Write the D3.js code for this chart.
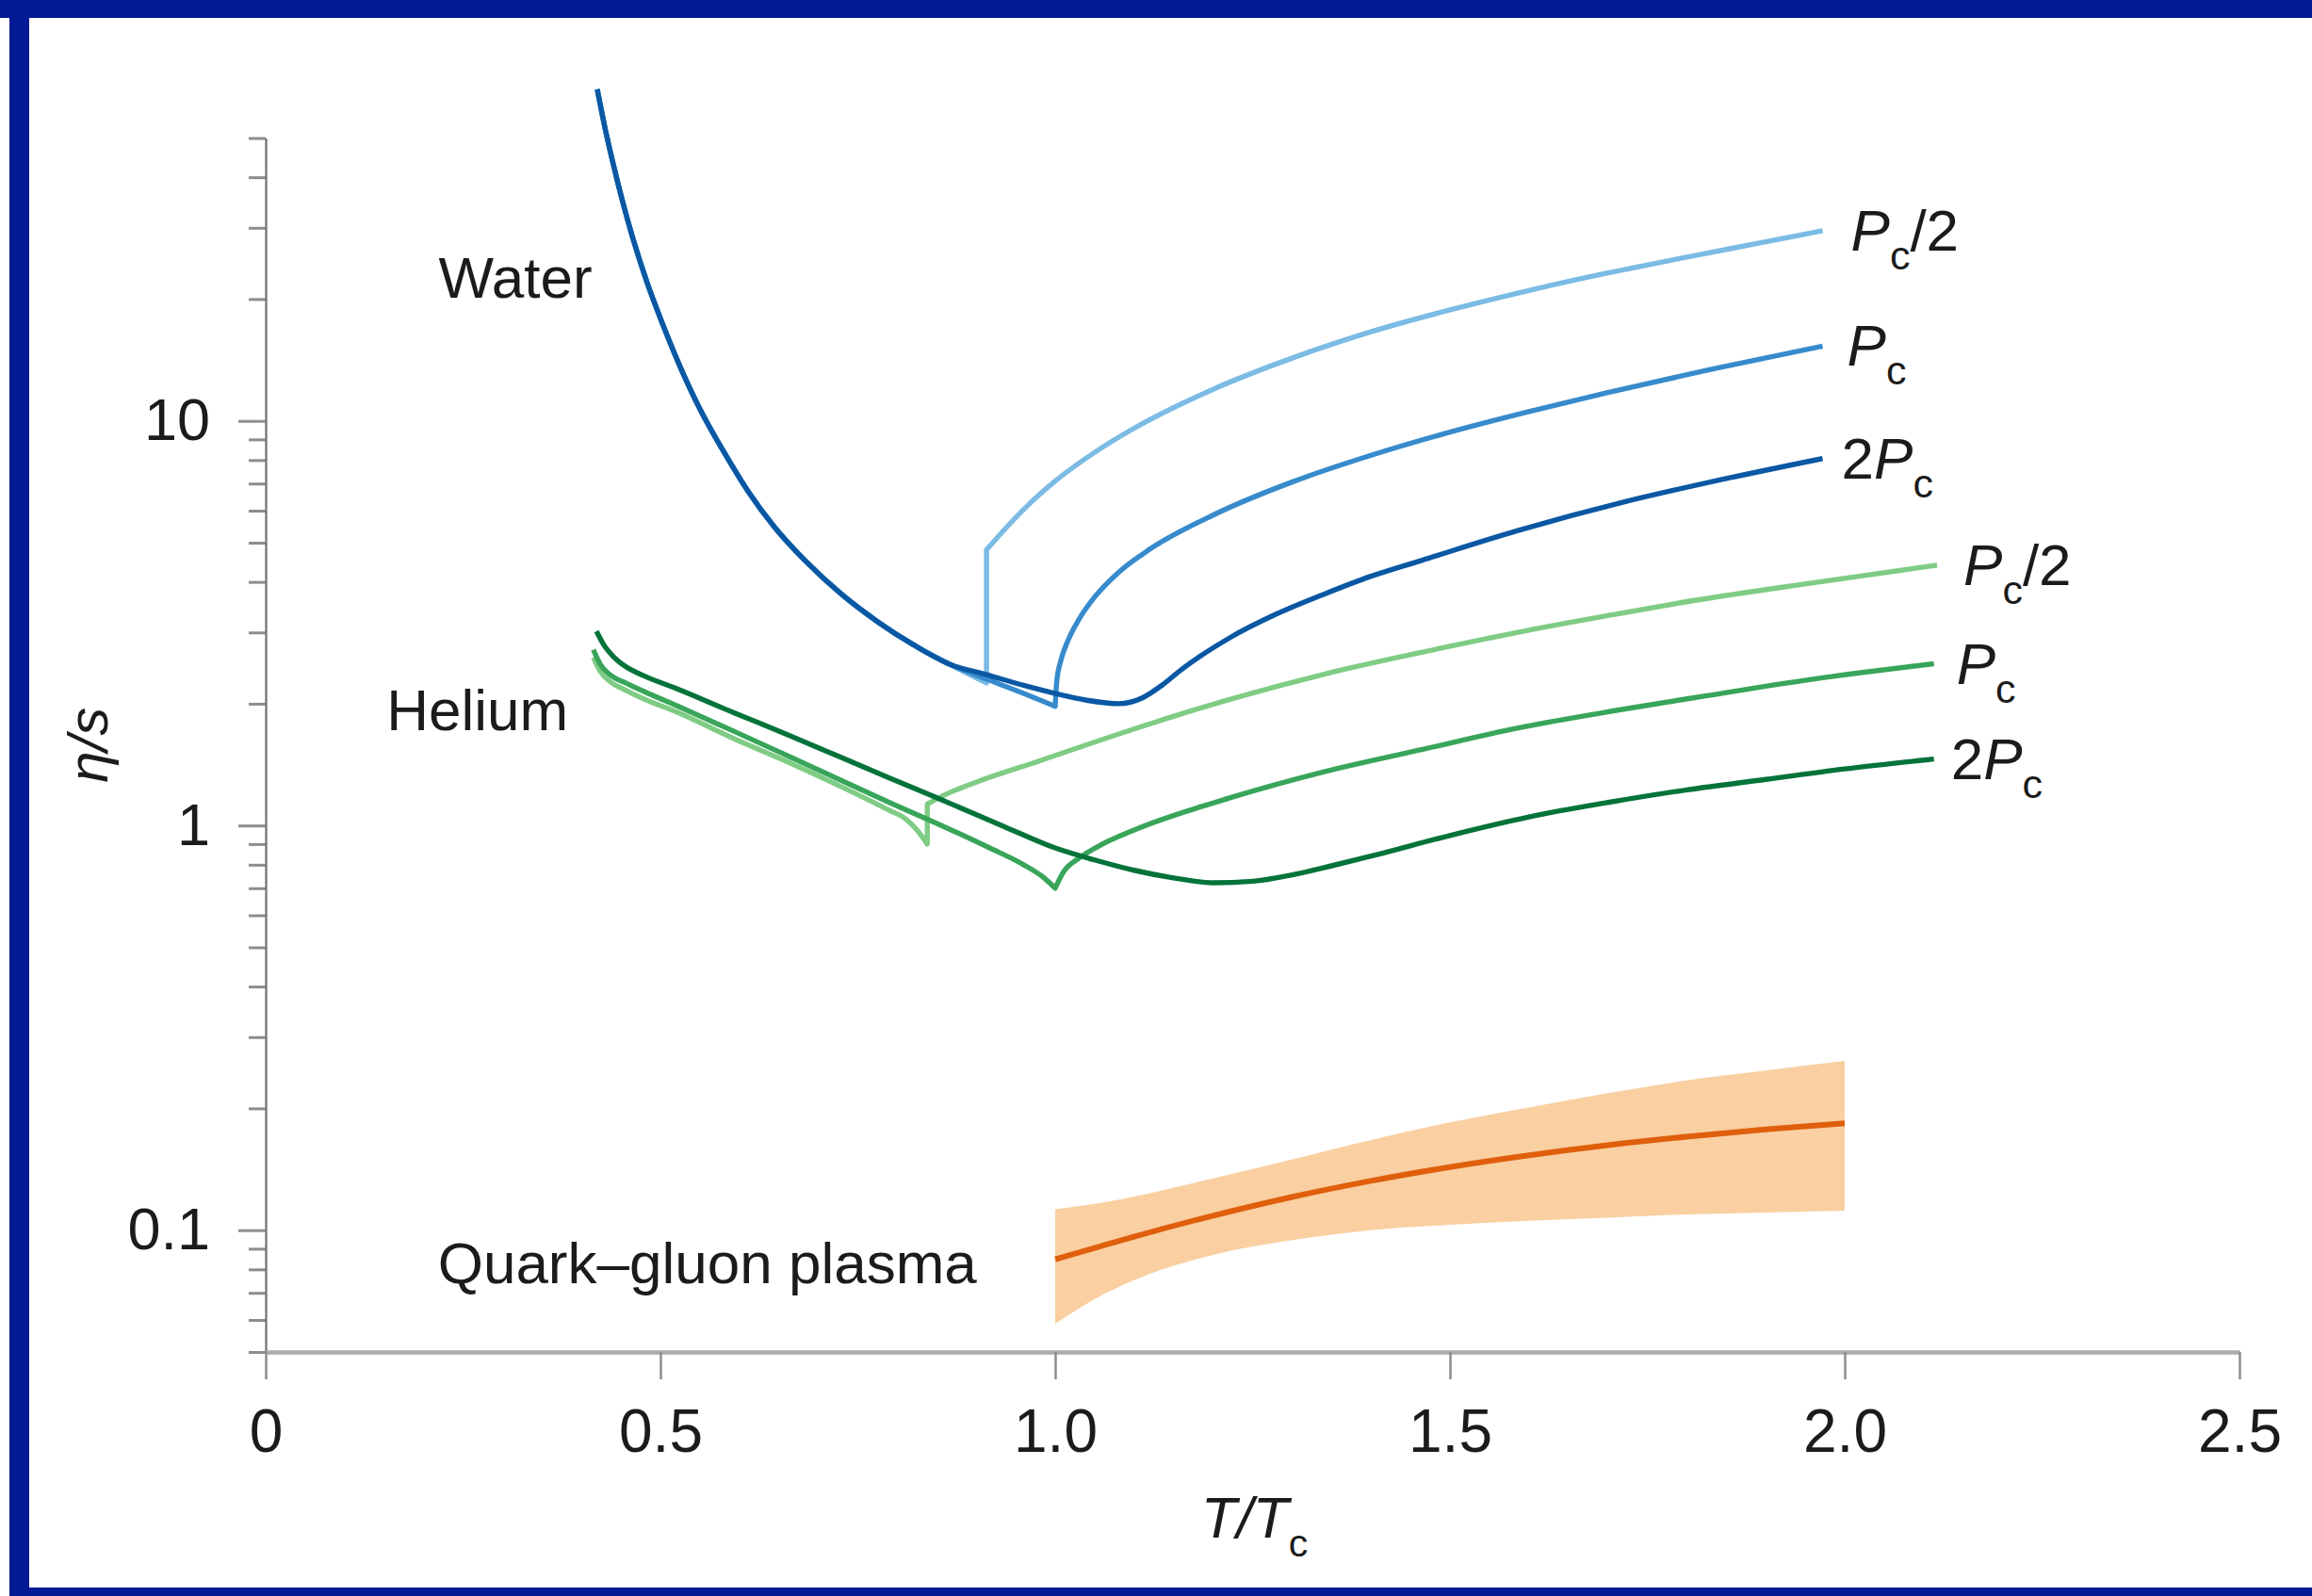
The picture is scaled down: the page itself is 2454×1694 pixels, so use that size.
<!DOCTYPE html>
<html>
<head>
<meta charset="utf-8">
<script src="https://cdn.jsdelivr.net/npm/d3@7"></script>
<style>
  html, body { margin: 0; padding: 0; background: #ffffff; }
  svg { display: block; }
  text { font-family: "Liberation Sans", Arial, Helvetica, sans-serif; fill: #1b1b1b; }
</style>
</head>
<body>
<svg id="chart" width="2454" height="1694"></svg>
<script>
// ---- Axis ticks ----
const xTicks = [0, 0.5, 1, 1.5, 2, 2.5];
const xTickLabels = ["0", "0.5", "1.0", "1.5", "2.0", "2.5"];
const yTicks = [0.1, 1, 10];
const yTickLabels = ["0.1", "1", "10"];
const yMinorTicks = [0.05, 0.06, 0.07, 0.08, 0.09, 0.2, 0.3, 0.4, 0.5, 0.6, 0.7, 0.8, 0.9,
                     2, 3, 4, 5, 6, 7, 8, 9, 20, 30, 40, 50];

// ---- Water (η/s vs T/Tc), three pressures ----
// falling branch common to all three pressures
const waterFall = [[0.42, 66], [0.43, 52.7], [0.441, 42.5], [0.452, 34.9], [0.465, 28.3], [0.483, 22],
  [0.502, 17.5], [0.525, 13.6], [0.551, 10.6], [0.58, 8.4], [0.611, 6.7], [0.645, 5.45],
  [0.684, 4.5], [0.73, 3.72], [0.776, 3.18], [0.82, 2.8], [0.867, 2.5]];
const waterHalfFallEnd = [[0.913, 2.25]];
const waterHalfRise = [[0.913, 4.8], [0.94, 5.5], [0.97, 6.31], [1.0, 7.1], [1.05, 8.36], [1.1, 9.59],
  [1.2, 11.97], [1.3, 14.29], [1.4, 16.6], [1.5, 18.8], [1.6, 21.0], [1.7, 23.2], [1.8, 25.4],
  [1.9, 27.7], [1.972, 29.5]];
const waterPcFallEnd = [[0.913, 2.3], [0.96, 2.12], [1.0, 1.97]];
const waterPcRise = [[1.0, 1.97], [1.002, 2.27], [1.007, 2.55], [1.016, 2.86], [1.03, 3.23], [1.05, 3.67],
  [1.08, 4.22], [1.12, 4.82], [1.2, 5.85], [1.3, 7.06], [1.4, 8.22], [1.5, 9.38], [1.6, 10.54],
  [1.7, 11.75], [1.83, 13.4], [1.972, 15.3]];
const water2PcTail = [[0.913, 2.36], [0.96, 2.22], [1.0, 2.12], [1.04, 2.04], [1.081, 2.0], [1.111, 2.07],
  [1.135, 2.22], [1.16, 2.43], [1.221, 2.91], [1.28, 3.33], [1.342, 3.74], [1.4, 4.13], [1.464, 4.52],
  [1.585, 5.35], [1.72, 6.3], [1.85, 7.2], [1.972, 8.07]];

// ---- Helium, three pressures ----
const heliumHalfFall = [[0.415, 2.6], [0.424, 2.4], [0.436, 2.27], [0.456, 2.16], [0.48, 2.05], [0.52, 1.91],
  [0.593, 1.64], [0.66, 1.44], [0.73, 1.245], [0.79, 1.09], [0.81, 1.04], [0.825, 0.975], [0.838, 0.9]];
const heliumHalfRise = [[0.838, 1.13], [0.856, 1.18], [0.9, 1.28], [0.978, 1.44], [1.099, 1.73], [1.221, 2.05],
  [1.342, 2.37], [1.464, 2.68], [1.585, 3.0], [1.707, 3.32], [1.81, 3.6], [1.96, 3.98], [2.117, 4.4]];
const heliumPcFall = [[0.415, 2.72], [0.424, 2.5], [0.436, 2.36], [0.456, 2.25], [0.48, 2.14], [0.52, 1.98],
  [0.593, 1.71], [0.66, 1.49], [0.73, 1.29], [0.79, 1.14], [0.856, 1.0], [0.917, 0.88], [0.96, 0.8],
  [0.985, 0.745], [1.0, 0.70]];
const heliumPcRise = [[1.0, 0.70], [1.01, 0.765], [1.03, 0.83], [1.06, 0.90], [1.1, 0.975], [1.221, 1.17],
  [1.342, 1.36], [1.464, 1.54], [1.585, 1.74], [1.707, 1.92], [1.81, 2.07], [1.96, 2.3], [2.113, 2.51]];
const helium2Pc = [[0.419, 3.02], [0.428, 2.8], [0.44, 2.62], [0.456, 2.47], [0.48, 2.34], [0.52, 2.18],
  [0.593, 1.9], [0.66, 1.68], [0.73, 1.47], [0.79, 1.31], [0.846, 1.18], [0.935, 0.995], [1.0, 0.88],
  [1.05, 0.822], [1.1, 0.775], [1.15, 0.742], [1.2, 0.722], [1.25, 0.728], [1.3, 0.755], [1.35, 0.795],
  [1.4, 0.84], [1.5, 0.945], [1.6, 1.05], [1.7, 1.14], [1.8, 1.225], [1.9, 1.3], [2.0, 1.38], [2.113, 1.46]];

// ---- Quark–gluon plasma: central estimate and uncertainty band ----
const qgpT    = [1.0, 1.05, 1.1, 1.2, 1.3, 1.4, 1.5, 1.6, 1.7, 1.8, 1.9, 2.0];
const qgpMid  = [0.0847, 0.0904, 0.0964, 0.1086, 0.1208, 0.1324, 0.1432, 0.1531, 0.1622, 0.1702, 0.1774, 0.1837];
const qgpHigh = [0.1127, 0.1161, 0.1211, 0.1343, 0.1494, 0.167, 0.1846, 0.201, 0.218, 0.2346, 0.248, 0.262];
const qgpLow  = [0.0587, 0.0675, 0.0752, 0.0869, 0.0945, 0.100, 0.1031, 0.1055, 0.1074, 0.1094, 0.1106, 0.1117];

// ---- Group names and where they sit (data coordinates of text start / baseline) ----
const groupNames = ["Water", "Helium", "Quark\u2013gluon plasma"];
const groupNameAt = [[0.219, 20.1], [0.153, 1.718], [0.218, 0.074]];

// ---- Pressure labels at curve ends ----
const pressureLabels = [
  [{ t: "P", it: true }, { t: "c", sub: true }, { t: "/2" }],
  [{ t: "P", it: true }, { t: "c", sub: true }],
  [{ t: "2" }, { t: "P", it: true }, { t: "c", sub: true }]
];

const waterColors = ["#7bbbe4", "#378bcc", "#0a58a4"];
const heliumColors = ["#7fcc84", "#38a55a", "#04733a"];
const bandColor = "#facfa1";
const qgpLineColor = "#df5f0c";

// ---------------- drawing ----------------
const svg = d3.select("#chart");

const x = d3.scaleLinear().domain([0, 2.5]).range([282, 2377]);
const y = d3.scaleLog().domain([0.05, 50]).range([1435, 146.5]);

// page frame
svg.append("rect").attr("x", 0).attr("y", 0).attr("width", 2454).attr("height", 1694).attr("fill", "#ffffff");
const frameColor = "#021a94";
svg.append("rect").attr("x", 0).attr("y", 0).attr("width", 2454).attr("height", 19).attr("fill", frameColor);
svg.append("rect").attr("x", 10).attr("y", 0).attr("width", 21).attr("height", 1694).attr("fill", frameColor);
svg.append("rect").attr("x", 10).attr("y", 1685).attr("width", 2444).attr("height", 9).attr("fill", frameColor);

// axes
const yMajor = d3.axisLeft(y).tickValues(yTicks).tickSize(29).tickPadding(30).tickSizeOuter(0)
  .tickFormat((d, i) => yTickLabels[i]);
const yMinor = d3.axisLeft(y).tickValues(yMinorTicks).tickSize(18).tickSizeOuter(0).tickFormat("");

const gyMinor = svg.append("g").attr("transform", `translate(${x(0)},0)`).call(yMinor);
gyMinor.select(".domain").remove();
gyMinor.selectAll(".tick line").attr("stroke", "#8d8d8d").attr("stroke-width", 3);

const gy = svg.append("g").attr("transform", `translate(${x(0)},0)`).call(yMajor);
gy.select(".domain").attr("stroke", "#707070").attr("stroke-width", 2.2);
gy.selectAll(".tick line").attr("stroke", "#8d8d8d").attr("stroke-width", 3);
gy.selectAll(".tick text").attr("font-size", 63).attr("fill", "#1b1b1b")
  .attr("font-family", "'Liberation Sans', Arial, sans-serif");

const xAxis = d3.axisBottom(x).tickValues(xTicks).tickSize(29).tickPadding(32).tickSizeOuter(0)
  .tickFormat((d, i) => xTickLabels[i]);
const gx = svg.append("g").attr("transform", `translate(0,${y(0.05)})`).call(xAxis);
gx.select(".domain").attr("stroke", "#ababab").attr("stroke-width", 4.5);
gx.selectAll(".tick line").attr("stroke", "#8d8d8d").attr("stroke-width", 2.5);
gx.selectAll(".tick text").attr("font-size", 64).attr("fill", "#1b1b1b")
  .attr("font-family", "'Liberation Sans', Arial, sans-serif");

// axis titles
svg.append("text")
  .attr("transform", `translate(114,${(y(0.05) + y(50)) / 2}) rotate(-90)`)
  .attr("text-anchor", "middle").attr("font-size", 60).attr("font-style", "italic")
  .text("\u03b7/s");

const xt = svg.append("text").attr("x", (x(0) + x(2.5)) / 2 + 2).attr("y", 1632)
  .attr("text-anchor", "middle").attr("font-size", 62);
xt.append("tspan").attr("font-style", "italic").text("T/T");
xt.append("tspan").attr("font-size", 41).attr("dy", 20).text("c");

// curve helpers
const lineGen = d3.line().x(d => x(d[0])).y(d => y(d[1])).curve(d3.curveMonotoneX);
// joins several smooth branches with straight connectors (jumps at the transition)
function branchesPath(branches) {
  return branches.map((b, i) => {
    const p = lineGen(b);
    return i === 0 ? p : p.replace(/^M/, "L");
  }).join("");
}

// QGP band
const qgpRows = qgpT.map((t, i) => ({ t, lo: qgpLow[i], hi: qgpHigh[i], mid: qgpMid[i] }));
svg.append("path").datum(qgpRows)
  .attr("d", d3.area().x(d => x(d.t)).y0(d => y(d.lo)).y1(d => y(d.hi)).curve(d3.curveMonotoneX))
  .attr("fill", bandColor);
svg.append("path").datum(qgpRows)
  .attr("d", d3.line().x(d => x(d.t)).y(d => y(d.mid)).curve(d3.curveMonotoneX))
  .attr("fill", "none").attr("stroke", qgpLineColor).attr("stroke-width", 6);

// water curves (light drawn first, darkest on top)
const waterSeries = [
  [waterFall.concat(waterHalfFallEnd), waterHalfRise],
  [waterFall.concat(waterPcFallEnd), waterPcRise],
  [waterFall.concat(water2PcTail)]
];
// helium curves
const heliumSeries = [
  [heliumHalfFall, heliumHalfRise],
  [heliumPcFall, heliumPcRise],
  [helium2Pc]
];

function drawGroup(series, colors) {
  series.forEach((branches, i) => {
    svg.append("path").attr("d", branchesPath(branches))
      .attr("fill", "none").attr("stroke", colors[i]).attr("stroke-width", 5.4)
      .attr("stroke-linejoin", "round").attr("stroke-linecap", "butt");
  });
}
drawGroup(heliumSeries, heliumColors);
drawGroup(waterSeries, waterColors);

// pressure labels at the curve ends
function labelEnd(series, dxs) {
  series.forEach((branches, i) => {
    const last = branches[branches.length - 1];
    const end = last[last.length - 1];
    const t = svg.append("text").attr("x", x(end[0]) + dxs[i]).attr("y", y(end[1]) + 21)
      .attr("font-size", 62);
    pressureLabels[i].forEach(part => {
      const s = t.append("tspan").text(part.t);
      if (part.it) s.attr("font-style", "italic");
      if (part.sub) s.attr("font-size", 43).attr("dy", 20);
      else if (part.t === "/2") s.attr("dy", -20);
    });
  });
}
labelEnd(waterSeries, [30, 26, 20]);
labelEnd(heliumSeries, [28, 24, 18]);

// group names
groupNames.forEach((name, i) => {
  svg.append("text").attr("x", x(groupNameAt[i][0])).attr("y", y(groupNameAt[i][1]))
    .attr("font-size", 62).text(name);
});
</script>
</body>
</html>
